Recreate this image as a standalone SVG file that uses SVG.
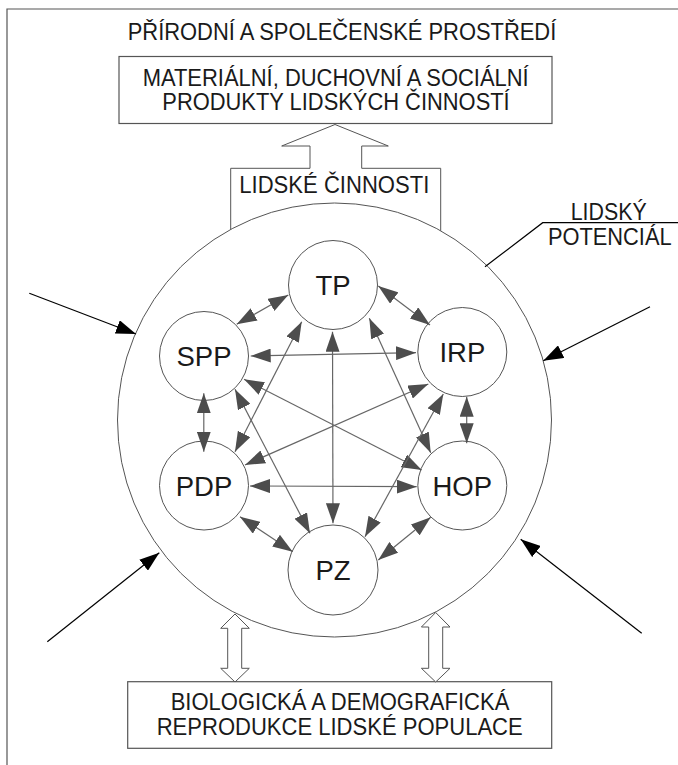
<svg xmlns="http://www.w3.org/2000/svg" width="678" height="765" viewBox="0 0 678 765">
<style>
.txt{font-family:"Liberation Sans",Arial,sans-serif;fill:#1a1a1a;}
.big{font-size:23px;}
.node-label{font-size:27.5px;text-anchor:middle;}
.box{fill:#fff;stroke:#555;stroke-width:1.2;}
.ring{fill:none;stroke:#555;stroke-width:1;}
.node{fill:#fff;stroke:#555;stroke-width:1;}
.conn{stroke:#666;stroke-width:1.2;fill:none;marker-start:url(#ah);marker-end:url(#ah);}
.ext{stroke:#000;stroke-width:1.2;fill:none;marker-end:url(#bh);}
.hollow{fill:#fff;stroke:#555;stroke-width:1;}
</style>
<defs>
<marker id="ah" markerUnits="userSpaceOnUse" markerWidth="20" markerHeight="14" refX="20" refY="7" orient="auto-start-reverse">
<path d="M0,0 L20,7 L0,14 z" fill="#4d4d4d"/>
</marker>
<marker id="bh" markerUnits="userSpaceOnUse" markerWidth="20" markerHeight="14" refX="20" refY="7" orient="auto">
<path d="M0,0 L20,7 L0,14 z" fill="#000"/>
</marker>
</defs>
<rect width="678" height="765" fill="#fff"/>
<g id="frame">
<path d="M7,765 L7,9 L678,9" fill="none" stroke="#555" stroke-width="1.2"/>
</g>
<g id="environment">
<text class="txt big" x="342" y="40" text-anchor="middle" textLength="428.6" lengthAdjust="spacingAndGlyphs">PŘÍRODNÍ A SPOLEČENSKÉ PROSTŘEDÍ</text>
</g>
<g id="products">
<rect class="box" x="119" y="56.5" width="433" height="67"/>
<text class="txt big" x="335.7" y="86" text-anchor="middle" textLength="386" lengthAdjust="spacingAndGlyphs">MATERIÁLNÍ, DUCHOVNÍ A SOCIÁLNÍ</text>
<text class="txt big" x="336" y="110" text-anchor="middle" textLength="347.4" lengthAdjust="spacingAndGlyphs">PRODUKTY LIDSKÝCH ČINNOSTÍ</text>
</g>
<g id="activities">
<path class="hollow" d="M230.7,229.4 L230.7,168.3 L310,168.3 L310,146 L281.7,146 L335,124.5 L388.3,146 L361.7,146 L361.7,168.3 L440.7,168.3 L440.7,230.8"/>
<text class="txt big" x="334.3" y="193.3" text-anchor="middle" textLength="190" lengthAdjust="spacingAndGlyphs">LIDSKÉ ČINNOSTI</text>
</g>
<g id="potential">
<circle class="ring" cx="334.5" cy="420" r="217"/>
<polyline points="485,266.7 542.7,222.7 678,222.7" fill="none" stroke="#000" stroke-width="1.2"/>
<text class="txt big" x="608.7" y="220" text-anchor="middle" textLength="76" lengthAdjust="spacingAndGlyphs">LIDSKÝ</text>
<text class="txt big" x="609.8" y="244.5" text-anchor="middle" textLength="123.7" lengthAdjust="spacingAndGlyphs">POTENCIÁL</text>
</g>
<g id="reproduction">
<rect class="box" x="127.7" y="681.7" width="424" height="66.6"/>
<text class="txt big" x="340" y="710" text-anchor="middle" textLength="338.7" lengthAdjust="spacingAndGlyphs">BIOLOGICKÁ A DEMOGRAFICKÁ</text>
<text class="txt big" x="339.7" y="735" text-anchor="middle" textLength="366" lengthAdjust="spacingAndGlyphs">REPRODUKCE LIDSKÉ POPULACE</text>
</g>
<g id="node-TP">
<circle class="node" cx="333" cy="285" r="44.5"/>
<text class="txt node-label" x="333" y="295">TP</text>
</g>
<g id="node-SPP">
<circle class="node" cx="204" cy="356" r="44.5"/>
<text class="txt node-label" x="204" y="366">SPP</text>
</g>
<g id="node-IRP">
<circle class="node" cx="462.3" cy="352" r="44.5"/>
<text class="txt node-label" x="462.3" y="362">IRP</text>
</g>
<g id="node-PDP">
<circle class="node" cx="204" cy="485.5" r="44.5"/>
<text class="txt node-label" x="204" y="495.5">PDP</text>
</g>
<g id="node-HOP">
<circle class="node" cx="462.3" cy="485.5" r="44.5"/>
<text class="txt node-label" x="462.3" y="495.5">HOP</text>
</g>
<g id="node-PZ">
<circle class="node" cx="333" cy="570" r="45"/>
<text class="txt node-label" x="333" y="580">PZ</text>
</g>
<g id="connectors">
<line class="conn" x1="288.3" y1="295" x2="236.7" y2="324.3"/>
<line class="conn" x1="378.3" y1="286" x2="430" y2="325"/>
<line class="conn" x1="301.7" y1="321.7" x2="235" y2="451.7"/>
<line class="conn" x1="332.5" y1="331.7" x2="333" y2="523.3"/>
<line class="conn" x1="369.3" y1="318.3" x2="430.7" y2="452.7"/>
<line class="conn" x1="250.7" y1="356" x2="416" y2="352.7"/>
<line class="conn" x1="203.8" y1="393.3" x2="203.8" y2="451.7"/>
<line class="conn" x1="244" y1="379.3" x2="421.7" y2="470"/>
<line class="conn" x1="235" y1="389.3" x2="310" y2="533.3"/>
<line class="conn" x1="428.3" y1="384" x2="245" y2="465"/>
<line class="conn" x1="466.7" y1="396.7" x2="466.7" y2="443.3"/>
<line class="conn" x1="443.3" y1="394" x2="365" y2="536.7"/>
<line class="conn" x1="250" y1="486" x2="416.7" y2="486.7"/>
<line class="conn" x1="240" y1="516.7" x2="292.7" y2="551.7"/>
<line class="conn" x1="430.7" y1="517.3" x2="378.3" y2="560"/>
<line class="ext" x1="29.3" y1="293.3" x2="136" y2="334"/>
<line class="ext" x1="47.3" y1="641.7" x2="159.3" y2="552.7"/>
<line class="ext" x1="650" y1="306.7" x2="543.3" y2="360.7"/>
<line class="ext" x1="641.7" y1="633.3" x2="520.7" y2="539.3"/>
<polygon class="hollow" points="235,614 249.3,628.3 241.7,628.3 241.7,668.3 249.3,668.3 235,682 220.7,668.3 227.7,668.3 227.7,628.3 220.7,628.3"/>
<polygon class="hollow" points="435.7,612.5 450,627 442.7,627 442.7,668.3 450,668.3 435.7,682 421.4,668.3 428.7,668.3 428.7,627 421.4,627"/>
</g>
</svg>
